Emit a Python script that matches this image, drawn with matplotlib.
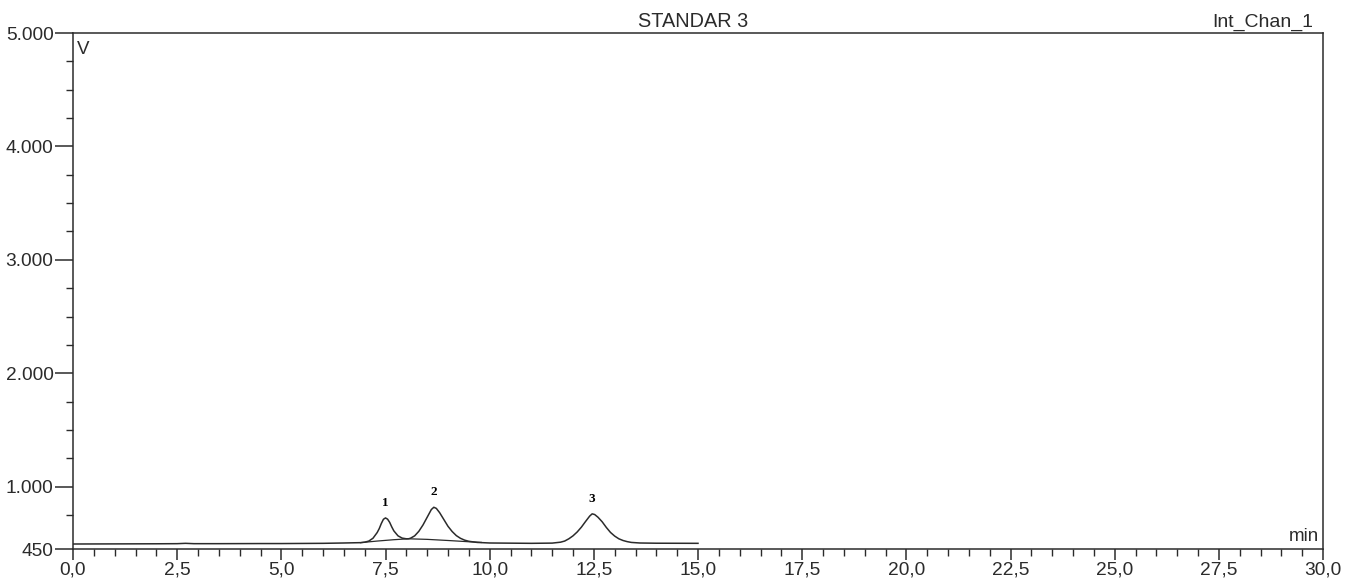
import numpy as np
import matplotlib.pyplot as plt
from matplotlib.ticker import FixedLocator, MultipleLocator

# Chromatogram trace (time in min, signal in mV)
trace_t = [0.0, 1.0, 2.0, 2.5, 2.7, 2.9, 3.5, 4.5, 5.0, 6.0, 6.5, 6.9,
           7.0, 7.1, 7.2, 7.3, 7.35, 7.4, 7.45, 7.5, 7.55, 7.6, 7.65, 7.7,
           7.8, 7.9, 8.0, 8.05, 8.1, 8.2, 8.3, 8.4, 8.5, 8.6, 8.66, 8.72,
           8.8, 8.9, 9.0, 9.1, 9.2, 9.3, 9.4, 9.5, 9.7, 10.0, 11.0, 11.5,
           11.7, 11.8, 11.9, 12.0, 12.1, 12.2, 12.3, 12.4, 12.46, 12.52,
           12.6, 12.7, 12.8, 12.9, 13.0, 13.1, 13.2, 13.3, 13.4, 13.6,
           14.0, 15.0]
trace_mv = [494, 495, 496, 497, 500, 497, 497, 498, 498, 500, 503, 506,
            510, 520, 545, 595, 630, 675, 712, 724, 713, 685, 645, 610,
            566, 546, 540, 540, 545, 566, 606, 662, 730, 798, 818, 808,
            770, 710, 650, 604, 568, 544, 528, 518, 508, 503, 500, 502,
            510, 520, 540, 566, 600, 642, 692, 740, 760, 754, 730, 690,
            640, 596, 564, 540, 525, 515, 508, 503, 501, 500]

# Integration baseline under peaks 1 and 2
base_t = [6.9, 7.3, 7.7, 8.05, 8.5, 9.0, 9.5, 9.8]
base_mv = [506, 520, 532, 540, 535, 525, 514, 508]

# Peak labels at the apex of each peak
peak_names = ['1', '2', '3']
peak_rt = [7.5, 8.66, 12.46]
peak_mv = [724, 818, 760]

x_ticks = [0.0, 2.5, 5.0, 7.5, 10.0, 12.5, 15.0, 17.5, 20.0, 22.5, 25.0, 27.5, 30.0]
x_labels = ['0,0', '2,5', '5,0', '7,5', '10,0', '12,5', '15,0', '17,5',
            '20,0', '22,5', '25,0', '27,5', '30,0']
y_ticks = [450, 1000, 2000, 3000, 4000, 5000]
y_labels = ['450', '1.000', '2.000', '3.000', '4.000', '5.000']

plt.rcParams['font.family'] = ['Liberation Sans', 'DejaVu Sans']
ink = '#2b2b2b'

fig = plt.figure(figsize=(13.45, 5.78), dpi=100)
ax = fig.add_axes([73 / 1345, 1 - 549 / 578, 1250 / 1345, (549 - 33) / 578])

ax.plot(trace_t, trace_mv, color=ink, lw=1.1)
ax.plot(base_t, base_mv, color=ink, lw=0.9)

for name, t, v in zip(peak_names, peak_rt, peak_mv):
    ax.annotate(name, (t, v), xytext=(0, 11), textcoords='offset points',
                ha='center', va='center', fontsize=9.5, fontweight='bold',
                family='Liberation Serif', color='black')

ax.set_xlim(0, 30)
ax.set_ylim(450, 5000)
ax.xaxis.set_major_locator(FixedLocator(x_ticks))
ax.set_xticklabels(x_labels)
ax.xaxis.set_minor_locator(MultipleLocator(0.5))
ax.yaxis.set_major_locator(FixedLocator(y_ticks))
ax.set_yticklabels(y_labels)
ax.yaxis.set_minor_locator(FixedLocator([750] + list(np.arange(1250, 5000, 250))))

ax.tick_params(axis='both', which='major', labelsize=13.8, colors=ink, width=1.1)
ax.tick_params(axis='x', which='major', length=8, pad=1)
ax.tick_params(axis='y', which='major', length=13, pad=1)
ax.tick_params(axis='both', which='minor', length=5, width=1.0, colors=ink)
for sp in ax.spines.values():
    sp.set_color(ink)
    sp.set_linewidth(1.1)

ax.text(0.003, 0.985, 'V', transform=ax.transAxes, ha='left', va='top',
        fontsize=13.5, color=ink)
ax.text(0.997, 0.008, 'min', transform=ax.transAxes, ha='right', va='bottom',
        fontsize=13.5, color=ink)
ax.text(0.496, 1.004, 'STANDAR 3', transform=ax.transAxes, ha='center',
        va='bottom', fontsize=14.3, color=ink)
ax.text(0.992, 1.004, 'Int_Chan_1', transform=ax.transAxes, ha='right',
        va='bottom', fontsize=14, color=ink)

fig.savefig('out.png', dpi=100, facecolor='white')
